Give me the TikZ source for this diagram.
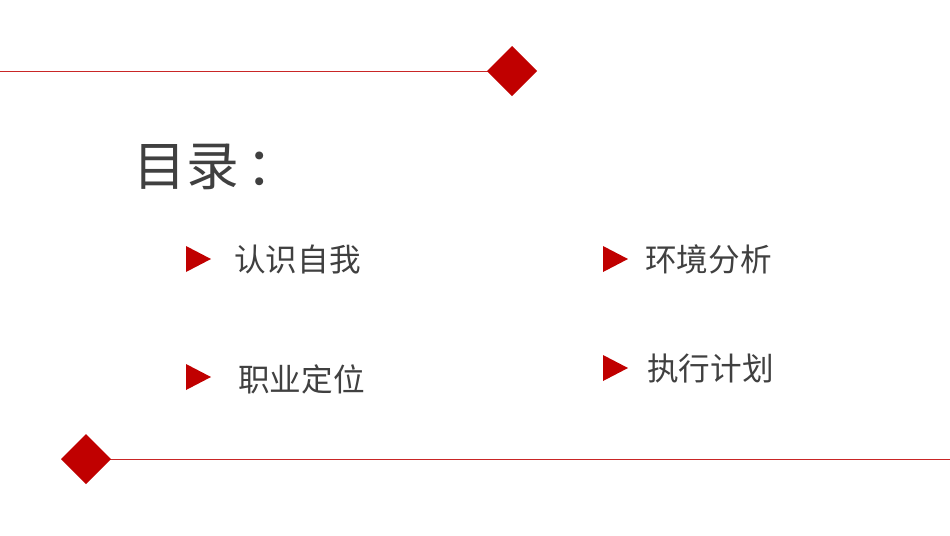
\documentclass[tikz,border=0pt]{standalone}
\usepackage{fontspec}
\newfontfamily\cjk{Noto Sans CJK SC}
\definecolor{myred}{HTML}{C00000}
\definecolor{mygray}{HTML}{404040}
\begin{document}
\begin{tikzpicture}[x=0.02cm,y=-0.02cm,
  dia/.style={fill=myred,draw=none},
  tri/.style={fill=myred,draw=none},
  rule/.style={draw=myred!85!white,line width=0.45pt},
  item/.style={anchor=west,text=mygray,font=\cjk\fontsize{18}{21}\selectfont,inner sep=0}]
\useasboundingbox (0,0) rectangle (950,535);
\coordinate (tl) at (0,71);
\coordinate (d1) at (512,71);
\coordinate (d2) at (86,459);
\coordinate (br) at (950,459);
\draw[rule] (tl) -- (d1);
\draw[rule] (d2) -- (br);
\fill[dia] (512,46) -- (537,71) -- (512,96) -- (487,71) -- cycle;
\fill[dia] (86,434) -- (111,459) -- (86,484) -- (61,459) -- cycle;
\node[anchor=west,text=mygray,font=\cjk\fontsize{30}{34}\selectfont,inner sep=0] (title) at (133,167) {目录\hspace{0.15em}：};
\fill[tri] (186,246) -- (211,259) -- (186,272) -- cycle;
\fill[tri] (603,246) -- (628,259) -- (603,272) -- cycle;
\fill[tri] (186,364) -- (211,377) -- (186,390) -- cycle;
\fill[tri] (603,355) -- (628,368) -- (603,381) -- cycle;
\node[item] (a) at (234,259) {认识自我};
\node[item] (b) at (645,259) {环境分析};
\node[item] (c) at (238,379) {职业定位};
\node[item] (d) at (647,369) {执行计划};
\end{tikzpicture}
\end{document}
